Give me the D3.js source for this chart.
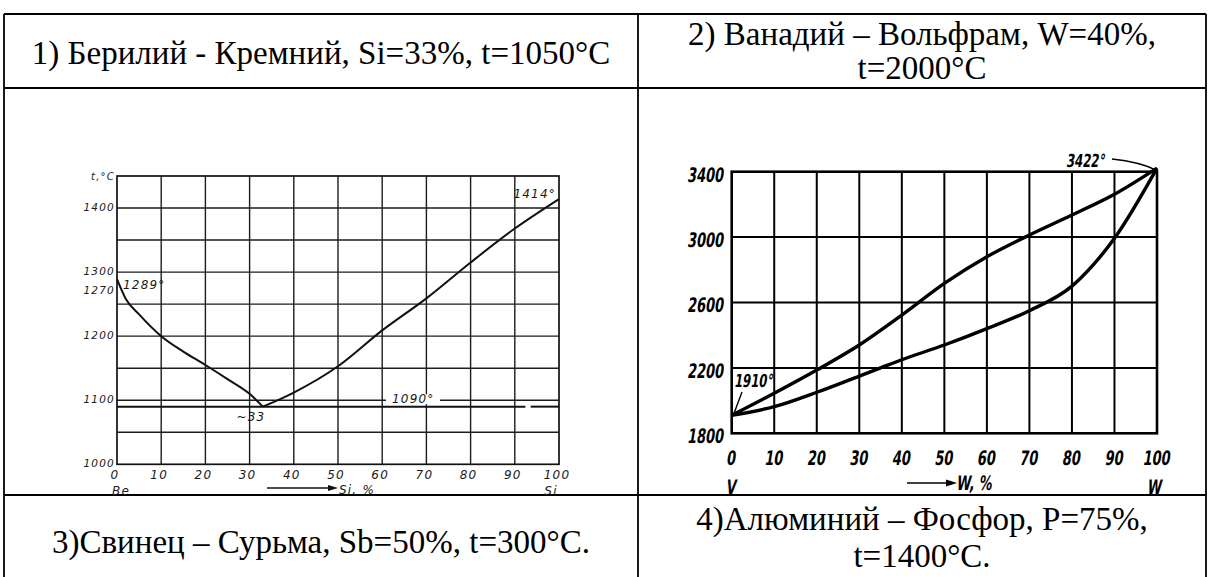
<!DOCTYPE html>
<html>
<head>
<meta charset="utf-8">
<script src="https://cdn.jsdelivr.net/npm/d3@7"></script>
<style>
  html, body { margin: 0; padding: 0; background: #fff; }
  svg { display: block; }
  .cap { font-family: "Liberation Serif", "Times New Roman", Tinos, "DejaVu Serif", serif; }
</style>
</head>
<body>
<svg id="sheet" width="1209" height="577"></svg>
<script>
// ---- Table cell captions ----
const captionTopLeft = ["1) Берилий - Кремний, Si=33%, t=1050°C"];
const captionTopRight = ["2) Ванадий – Вольфрам, W=40%,", "t=2000°C"];
const captionBottomLeft = ["3)Свинец – Сурьма, Sb=50%, t=300°C."];
const captionBottomRight = ["4)Алюминий – Фосфор, P=75%,", "t=1400°C."];

// ---- Be–Si diagram ----
const beSiXTicks = [0, 10, 20, 30, 40, 50, 60, 70, 80, 90, 100];
const beSiYGrid = [1050, 1100, 1150, 1200, 1250, 1300, 1350, 1400];
const beSiYLabels = [1000, 1100, 1200, 1270, 1300, 1400];
const beSiLeftX = [0, 2, 5, 10, 15, 20, 25, 30, 33];
const beSiLeftT = [1289, 1258, 1234, 1200, 1176, 1155, 1133, 1110, 1090];
const beSiRightX = [33, 40, 50, 60, 70, 80, 90, 100];
const beSiRightT = [1090, 1112, 1153, 1209, 1259, 1315, 1368, 1414];
const beSiEutecticT = 1090;
const beSiEutecticX = 33;
const beMelt = 1289, siMelt = 1414;

// ---- V–W diagram ----
const vwXTicks = [0, 10, 20, 30, 40, 50, 60, 70, 80, 90, 100];
const vwYTicks = [1800, 2200, 2600, 3000, 3400];
const vwLiqX = [0, 10, 20, 30, 40, 50, 60, 70, 80, 90, 100];
const vwLiquidus = [1910, 2045, 2187, 2340, 2523, 2717, 2880, 3013, 3135, 3262, 3422];
const vwSolX = [0, 10, 20, 30, 35, 40, 50, 60, 70, 80, 85, 90, 100];
const vwSolidus = [1910, 1963, 2051, 2150, 2200, 2250, 2340, 2440, 2550, 2700, 2830, 2993, 3422];
const vMelt = 1910, wMelt = 3422;

const svg = d3.select("#sheet");
svg.append("rect").attr("width", 1209).attr("height", 577).attr("fill", "#fff");

// ---- table frame ----
const T = { left: 4, right: 1206, mid: 638, top: 14, row1: 88, row2: 495, bottom: 590 };
const frame = svg.append("g").attr("stroke", "#000").attr("stroke-width", 1.8).attr("fill", "none");
[[T.left, T.top, T.right, T.top], [T.left, T.row1, T.right, T.row1], [T.left, T.row2, T.right, T.row2],
 [T.left, T.top, T.left, T.bottom], [T.mid, T.top, T.mid, T.bottom], [T.right, T.top, T.right, T.bottom]]
  .forEach(([x1, y1, x2, y2]) => frame.append("line").attr("x1", x1).attr("y1", y1).attr("x2", x2).attr("y2", y2));

function caption(lines, cx, ys) {
  const g = svg.append("g").attr("class", "cap")
    .attr("font-size", 33).attr("fill", "#000").attr("text-anchor", "middle");
  lines.forEach((s, i) => {
    g.append("text").attr("x", cx).attr("y", ys[i])
      .attr("dominant-baseline", "central").text(s);
  });
}
caption(captionTopLeft, (T.left + T.mid) / 2, [53]);
caption(captionTopRight, (T.mid + T.right) / 2, [34, 68]);
caption(captionBottomLeft, (T.left + T.mid) / 2, [542]);
caption(captionBottomRight, (T.mid + T.right) / 2, [519, 556]);

// ================= Be–Si =================
const xL = d3.scaleLinear().domain([0, 100]).range([117, 559]);
const yL = d3.scaleLinear().domain([1000, 1450]).range([464.3, 176]);
const gL = svg.append("g");
const leftFont = "'DejaVu Sans', sans-serif";

// grid
const gridL = gL.append("g").attr("stroke", "#1c1c1c").attr("stroke-width", 1.4);
beSiXTicks.slice(1, -1).forEach(v => gridL.append("line")
  .attr("x1", xL(v)).attr("x2", xL(v)).attr("y1", yL(1450)).attr("y2", yL(1000)));
beSiYGrid.forEach(v => gridL.append("line")
  .attr("x1", xL(0)).attr("x2", xL(100)).attr("y1", yL(v)).attr("y2", yL(v)));
gL.append("rect").attr("x", xL(0)).attr("y", yL(1450))
  .attr("width", xL(100) - xL(0)).attr("height", yL(1000) - yL(1450))
  .attr("fill", "none").attr("stroke", "#111").attr("stroke-width", 1.7);

// eutectic horizontal (broken near the right edge)
const eut = gL.append("g").attr("stroke", "#111").attr("stroke-width", 2);
[[0, 92.4], [93.6, 100]].forEach(([a, b]) => eut.append("line")
  .attr("x1", xL(a)).attr("x2", xL(b)).attr("y1", yL(beSiEutecticT)).attr("y2", yL(beSiEutecticT)));

// liquidus branches
const lineL = d3.line().x(d => xL(d[0])).y(d => yL(d[1])).curve(d3.curveMonotoneX);
[d3.zip(beSiLeftX, beSiLeftT), d3.zip(beSiRightX, beSiRightT)].forEach(pts =>
  gL.append("path").datum(pts).attr("d", lineL).attr("fill", "none")
    .attr("stroke", "#111").attr("stroke-width", 2));

function lt(g, x, y, s, anchor, size) {
  return g.append("text").attr("x", x).attr("y", y).attr("dominant-baseline", "central")
    .attr("text-anchor", anchor || "start").attr("font-family", leftFont).attr("font-style", "italic")
    .attr("font-size", size || 12).attr("letter-spacing", 1.2).attr("fill", "#1a1a1a").text(s);
}
// axis labels
beSiXTicks.forEach(v => lt(gL, xL(v) - 2, 475, v, "middle"));
beSiYLabels.forEach(v => lt(gL, 115, yL(v) - 1, v, "end", 10.5));
lt(gL, 115, yL(1450), "t,°C", "end", 10);
lt(gL, xL(0) + 4, 491, "Be", "middle");
lt(gL, xL(100) - 8, 491, "Si", "middle");
gL.append("line").attr("x1", 267).attr("x2", 332).attr("y1", 488).attr("y2", 488)
  .attr("stroke", "#111").attr("stroke-width", 1.3);
gL.append("path").attr("d", "M338,488 L328,485 L328,491 Z").attr("fill", "#111");
lt(gL, 339, 490, "Si, %", "start");

// value labels
lt(gL, xL(0) + 6, 285, beMelt + "°", "start");
lt(gL, xL(100) - 3, 194, siMelt + "°", "end");
gL.append("rect").attr("x", 386).attr("y", yL(1100) - 6).attr("width", 54).attr("height", 10).attr("fill", "#fff");
lt(gL, 392, 399, beSiEutecticT + "°", "start");
lt(gL, xL(beSiEutecticX) - 12, 417, "~" + beSiEutecticX, "middle");

// ================= V–W =================
const xR = d3.scaleLinear().domain([0, 100]).range([731.7, 1157]);
const yR = d3.scaleLinear().domain([1800, 3400]).range([433.3, 171.7]);
const gR = svg.append("g");

const gridR = gR.append("g").attr("stroke", "#000").attr("stroke-width", 2);
vwXTicks.slice(1, -1).forEach(v => gridR.append("line")
  .attr("x1", xR(v)).attr("x2", xR(v)).attr("y1", yR(3400)).attr("y2", yR(1800)));
vwYTicks.slice(1, -1).forEach(v => gridR.append("line")
  .attr("x1", xR(0)).attr("x2", xR(100)).attr("y1", yR(v)).attr("y2", yR(v)));
gR.append("rect").attr("x", xR(0)).attr("y", yR(3400))
  .attr("width", xR(100) - xR(0)).attr("height", yR(1800) - yR(3400))
  .attr("fill", "none").attr("stroke", "#000").attr("stroke-width", 2.6);

const lineR = d3.line().x(d => xR(d[0])).y(d => yR(d[1])).curve(d3.curveMonotoneX);
[d3.zip(vwLiqX, vwLiquidus), d3.zip(vwSolX, vwSolidus)].forEach(pts => gR.append("path").datum(pts)
  .attr("d", lineR).attr("fill", "none").attr("stroke", "#000").attr("stroke-width", 3.4)
  .attr("stroke-linejoin", "round"));

function rt(g, x, y, s, anchor, size) {
  return g.append("text").attr("transform", `translate(${x},${y}) skewX(-9) scale(0.72,1)`)
    .attr("dominant-baseline", "central").attr("text-anchor", anchor || "start")
    .attr("font-family", "'DejaVu Sans Condensed', 'DejaVu Sans', sans-serif")
    .attr("font-weight", "bold")
    .attr("font-size", size || 20).attr("fill", "#000").text(s);
}
vwYTicks.forEach(v => rt(gR, 724, yR(v) + 3, v, "end"));
vwXTicks.forEach(v => rt(gR, xR(v), 458, v, "middle"));
rt(gR, xR(0), 487, "V", "middle");
rt(gR, xR(100) - 2, 487, "W", "middle");
gR.append("line").attr("x1", 907).attr("x2", 950).attr("y1", 483).attr("y2", 483)
  .attr("stroke", "#000").attr("stroke-width", 1.6);
gR.append("path").attr("d", "M957,483 L946,479.5 L946,486.5 Z").attr("fill", "#000");
rt(gR, 957, 483, "W, %", "start");

// melting point callouts
rt(gR, 735, 381, vMelt + "°", "start", 18);
gR.append("path").attr("d", `M742,392 L${xR(0) + 2},${yR(vMelt) - 1}`)
  .attr("stroke", "#000").attr("stroke-width", 1.4).attr("fill", "none");
rt(gR, 1067, 161, wMelt + "°", "start", 18);
gR.append("path").attr("d", `M1112,159 Q1140,162 ${xR(100) - 1},${yR(wMelt) + 2}`)
  .attr("stroke", "#000").attr("stroke-width", 1.4).attr("fill", "none");
</script>
</body>
</html>
